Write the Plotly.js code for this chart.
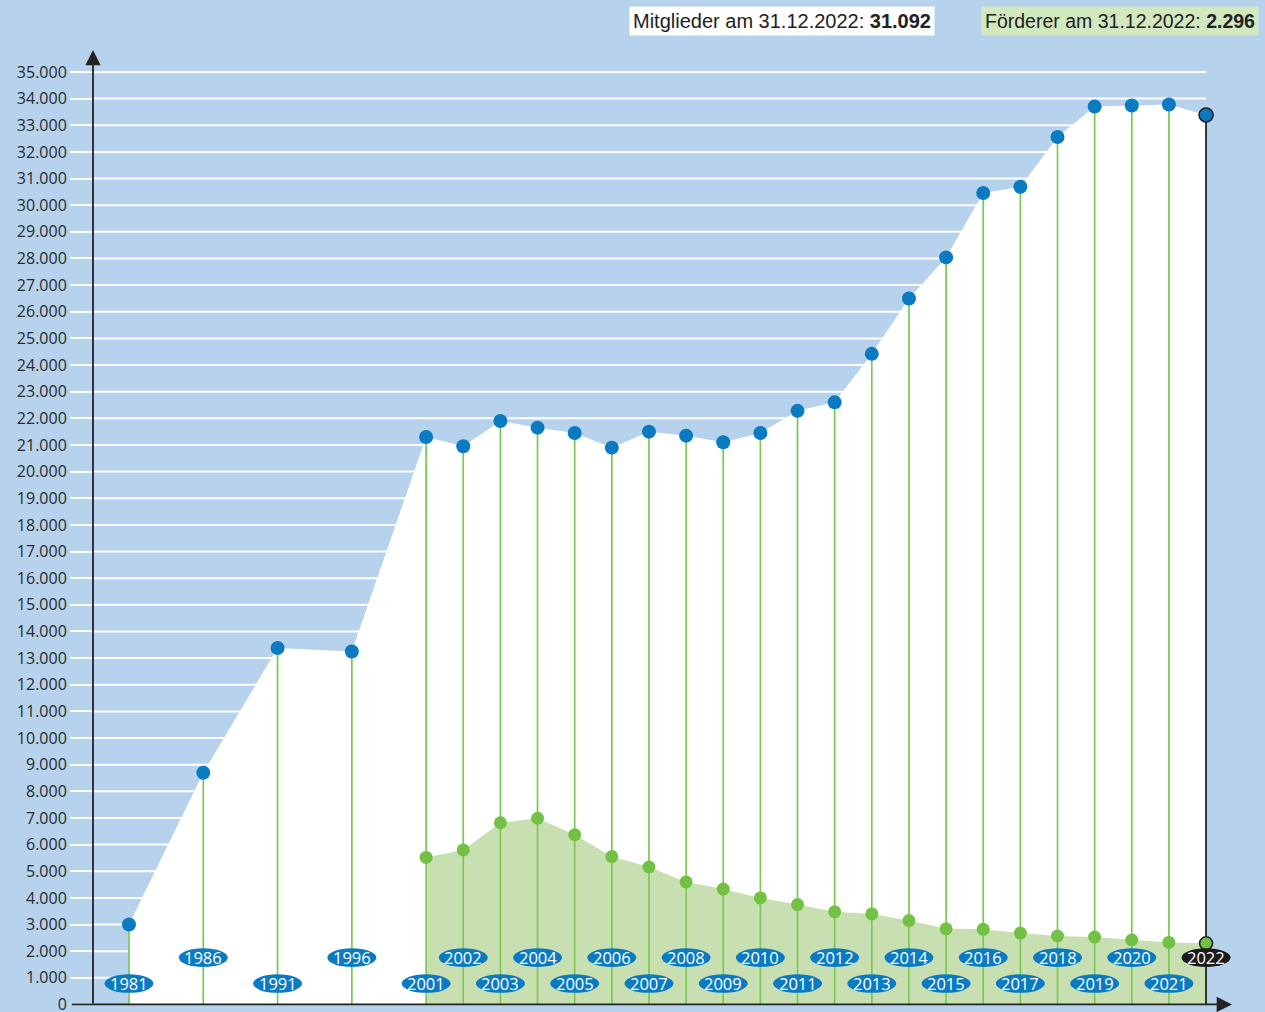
<!DOCTYPE html>
<html>
<head>
<meta charset="utf-8">
<script src="https://cdn.plot.ly/plotly-3.0.1.min.js"></script>
<style>html,body{margin:0;padding:0;background:#b6d2ec;}#chart{width:1265px;height:1012px;}</style>
</head>
<body>
<div id="chart"></div>
<script>
// ---- data ----
const years = [1981,1986,1991,1996,2001,2002,2003,2004,2005,2006,2007,2008,2009,2010,2011,2012,2013,2014,2015,2016,2017,2018,2019,2020,2021,2022];
// Mitglieder + Förderer (blue line)
const total = [3000,8700,13380,13250,21300,20950,21900,21650,21450,20900,21500,21350,21100,21450,22280,22600,24420,26500,28040,30460,30690,32560,33700,33740,33780,33388];
const foerderYears = [2001,2002,2003,2004,2005,2006,2007,2008,2009,2010,2011,2012,2013,2014,2015,2016,2017,2018,2019,2020,2021,2022];
const foerderer = [5520,5800,6820,6990,6370,5550,5160,4600,4330,4000,3750,3480,3400,3150,2840,2820,2680,2570,2530,2420,2330,2296];
const headerMembers = "Mitglieder am 31.12.2022: <b>31.092</b>";
const headerSupporters = "Förderer am 31.12.2022: <b>2.296</b>";
const yTicks = [0,1000,2000,3000,4000,5000,6000,7000,8000,9000,10000,11000,12000,13000,14000,15000,16000,17000,18000,19000,20000,21000,22000,23000,24000,25000,26000,27000,28000,29000,30000,31000,32000,33000,34000,35000];

// x scale: 5-year steps before 2001 take two slots
function slot(y){ return y <= 2001 ? (y-1981)*0.4 : 8 + (y-2001); }

const BG = '#b6d2ec', BLUE = '#0a7bc2', GREEN = '#72c044', GLINE = '#7cc852', GFILL = '#c8e0b1', DARK = '#232323';
const xt = years.map(slot);
const xf = foerderYears.map(slot);
const n = years.length, nf = foerderYears.length;
const XMIN = (93-129)/37.14, XMAX = (1232-129)/37.14;

const traces = [
  {x: xt, y: total, type:'scatter', mode:'lines', fill:'tozeroy', fillcolor:'#ffffff', line:{width:0, color:'#ffffff'}, hoverinfo:'skip', showlegend:false},
  {x: xf, y: foerderer, type:'scatter', mode:'lines', fill:'tozeroy', fillcolor:GFILL, line:{width:0, color:GFILL}, hoverinfo:'skip', showlegend:false},
  {x: xt, y: total, type:'scatter', mode:'markers', cliponaxis:false,
   marker:{size:14, color:BLUE, line:{width:0}},
   error_y:{type:'data', symmetric:false, array:total.map(()=>0), arrayminus:total, width:0, thickness:1.7, color:GLINE},
   showlegend:false},
  {x: [xt[n-1]], y: [total[n-1]], type:'scatter', mode:'markers', cliponaxis:false,
   marker:{size:14, color:BLUE, line:{width:1.6, color:DARK}},
   error_y:{type:'data', symmetric:false, array:[0], arrayminus:[total[n-1]], width:0, thickness:1.7, color:DARK},
   showlegend:false},
  {x: xf, y: foerderer, type:'scatter', mode:'markers', cliponaxis:false,
   marker:{size:13, color:GREEN, line:{width:foerderer.map((v,i)=> i===nf-1 ? 1.6 : 0), color:DARK}},
   showlegend:false}
];

const shapes = [], annotations = [];
// horizontal grid lines ending at the last year
yTicks.filter(v=>v>0).forEach(v=>{
  shapes.push({type:'line', xref:'x', yref:'y', x0:XMIN, x1:slot(years[n-1]), y0:v, y1:v,
    line:{color:'#ffffff', width:2}, layer:'below'});
});
const LOW = 785, HIGH = 1760;
years.forEach((yr,i)=>{
  const yv = (i%2===0) ? LOW : HIGH;
  const last = i === n-1;
  shapes.push({type:'circle', xref:'x', yref:'y', xsizemode:'pixel', ysizemode:'pixel',
    xanchor: slot(yr), yanchor: yv, x0:-24.5, x1:24.5, y0:-9.3, y1:9.3,
    fillcolor: last ? '#1a1a1a' : BLUE, line:{width:0}, layer:'above'});
  annotations.push({x: slot(yr), y: yv, xref:'x', yref:'y', text: String(yr), showarrow:false,
    font:{family:'Open Sans, sans-serif', size:16.5, color:'#ffffff'}, xanchor:'center', yanchor:'middle'});
});
// axis arrows
annotations.push({xref:'paper', yref:'paper', x:0, y:1, ax:0, ay:955, text:'', showarrow:true,
  arrowhead:2, arrowsize:1.7, arrowwidth:1.8, arrowcolor:DARK, standoff:0});
annotations.push({xref:'paper', yref:'y', x:1, y:0, ax:-1162, ay:0, text:'', showarrow:true,
  arrowhead:2, arrowsize:1.7, arrowwidth:1.8, arrowcolor:DARK, standoff:0});
// header boxes
annotations.push({xref:'paper', yref:'paper', x:(781.5-93)/1139, y:(1005-21)/955, xanchor:'center', yanchor:'middle',
  text: headerMembers, showarrow:false, bgcolor:'#ffffff', borderpad:3,
  font:{family:'Liberation Sans Narrow, Arial Narrow, sans-serif', size:20, color:'#222'}});
annotations.push({xref:'paper', yref:'paper', x:(1120-93)/1139, y:(1005-21)/955, xanchor:'center', yanchor:'middle',
  text: headerSupporters, showarrow:false, bgcolor:'#d2e8bf', borderpad:3,
  font:{family:'Liberation Sans Narrow, Arial Narrow, sans-serif', size:19.5, color:'#222'}});

const layout = {
  width:1265, height:1012,
  margin:{l:93, r:33, t:50, b:7, pad:0},
  paper_bgcolor:BG, plot_bgcolor:BG,
  separators: ',.',
  showlegend:false,
  xaxis:{range:[XMIN, XMAX], showgrid:false, zeroline:false, showline:false, showticklabels:false, ticks:'', fixedrange:true},
  yaxis:{range:[-20, 35825], tickvals:yTicks, tickformat:',d', showgrid:false, ticklabeloverflow:'allow',
    zeroline:false, showline:false, ticks:'outside', ticklen:22, tickwidth:2, tickcolor:'#ffffff',
    tickfont:{family:'Open Sans, sans-serif', size:16, color:'#2b2b2b'}, fixedrange:true},
  shapes: shapes,
  annotations: annotations
};

Plotly.newPlot('chart', traces, layout, {displayModeBar:false, staticPlot:true});
</script>
</body>
</html>
